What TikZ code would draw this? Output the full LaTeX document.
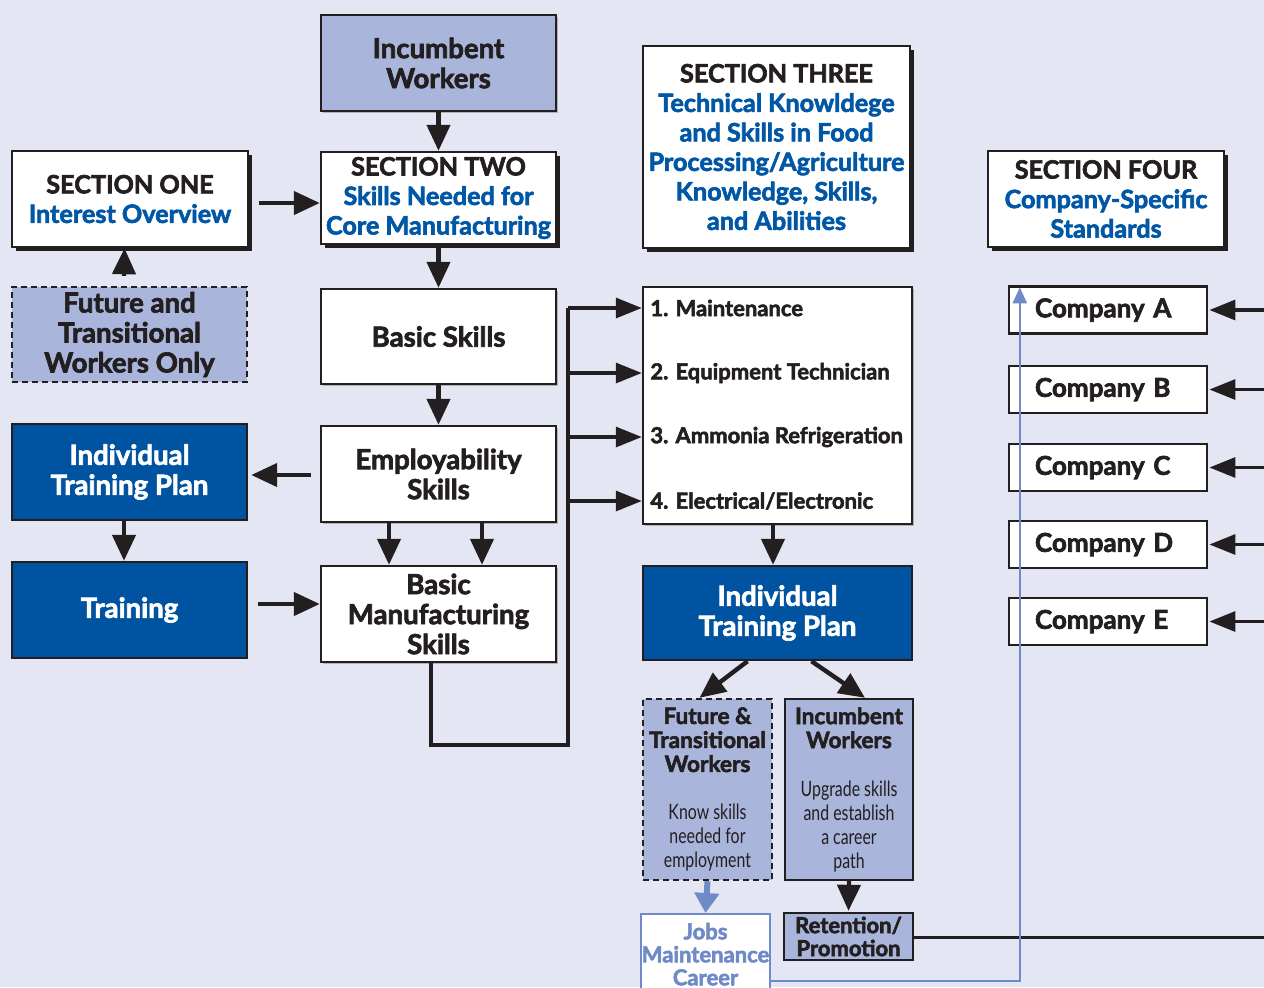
\documentclass[tikz,border=0pt]{standalone}
\usepackage{fontspec}
\setmainfont{Lato}[BoldFeatures={FakeBold=2.5}]
\newfontfamily\condfont{Lato}[FakeStretch=0.75]
\usetikzlibrary{arrows.meta,shadows,calc}

\definecolor{bgcol}{HTML}{E4E7F3}
\definecolor{ink}{HTML}{231F20}
\definecolor{palefill}{HTML}{A9B5DB}
\definecolor{navy}{HTML}{0053A0}
\definecolor{secblue}{HTML}{0057A6}
\definecolor{lineblue}{HTML}{6E8AC8}

% one line of condensed, regular-weight text
\newcommand{\condline}[1]{{\mdseries\condfont\fontsize{10.6}{12}\selectfont #1}}
\newcommand{\bluetext}[1]{\textcolor{secblue}{#1}}

\begin{document}
\begin{tikzpicture}[x=0.5pt,y=-0.5pt,
  box/.style={draw=ink, line width=1.2pt, fill=white, align=center, inner sep=0pt,
    text=ink, font=\bfseries\fontsize{13.8}{15}\selectfont},
  secbox/.style={box, font=\bfseries\fontsize{12.6}{14.75}\selectfont,
    drop shadow={shadow xshift=1.8pt,shadow yshift=-1.8pt,fill=ink,opacity=1}},
  softshadow/.style={drop shadow={shadow xshift=0.8pt,shadow yshift=-0.8pt,fill=gray!60,opacity=1}},
  palebox/.style={box, fill=palefill},
  darkbox/.style={box, fill=navy, text=white},
  dashbox/.style={palebox, dash pattern=on 3pt off 2pt},
  smallbox/.style={font=\bfseries\fontsize{11.3}{12}\selectfont},
  itemtext/.style={anchor=west, inner sep=0pt, text=ink, font=\bfseries\fontsize{11}{12}\selectfont},
  compbox/.style={box, minimum height=23.5pt, inner xsep=13pt, text width=73pt, align=left,
    font=\bfseries\fontsize{13}{14}\selectfont},
  arr/.style={draw=ink, line width=2.2pt, -{Triangle[length=13pt,width=11.5pt]}},
  busarr/.style={draw=ink, line width=1.6pt, -{Triangle[length=13pt,width=10pt]}},
  bus/.style={draw=ink, line width=1.6pt},
  bluearr/.style={draw=lineblue, line width=3pt, -{Triangle[length=10pt,width=12pt]}},
  bluethin/.style={draw=lineblue, line width=1.1pt, -{Triangle[length=8pt,width=7pt]}}
]
\useasboundingbox (0,0) rectangle (1264,987);
\fill[bgcol] (0,0) rectangle (1264,987);
\clip (0,0) rectangle (1264,987);

% ---- left and centre columns ----
\node[palebox,softshadow,minimum width=117.5pt,minimum height=48pt] (incT) at (438.5,63) {Incumbent\\Workers};
\node[secbox,minimum width=118pt,minimum height=48pt] (sec1) at (130,199)
  {SECTION ONE\\\bluetext{Interest Overview}};
\node[secbox,minimum width=117.5pt,minimum height=46pt] (sec2) at (438.5,198)
  {SECTION TWO\\\bluetext{Skills Needed for}\\\bluetext{Core Manufacturing}};
\node[dashbox,minimum width=117.5pt,minimum height=47.5pt] (futL) at (129.5,334.5)
  {Future and\\Transitional\\Workers Only};
\node[box,softshadow,minimum width=117.5pt,minimum height=47.5pt] (basic) at (438.5,336.5) {Basic Skills};
\node[box,softshadow,minimum width=117.5pt,minimum height=48pt] (emp) at (438.5,474) {Employability\\Skills};
\node[box,softshadow,minimum width=117.5pt,minimum height=48pt] (bms) at (438.5,614)
  {Basic\\Manufacturing\\Skills};
\node[darkbox,minimum width=117.5pt,minimum height=48pt] (itpL) at (129.5,472) {Individual\\Training Plan};
\node[darkbox,minimum width=117.5pt,minimum height=48pt] (train) at (129.5,610) {Training};

% ---- section three column ----
\node[secbox,minimum width=133.5pt,minimum height=101pt] (sec3) at (776.5,147)
  {SECTION THREE\\\bluetext{Technical Knowldege}\\\bluetext{and Skills in Food}\\
   \bluetext{Processing/Agriculture}\\\bluetext{Knowledge, Skills,}\\\bluetext{and Abilities}};
\node[box,softshadow,minimum width=134.5pt,minimum height=118.5pt] (list) at (777.5,405.5) {};
\node[itemtext] (i1) at (650,308) {1. Maintenance};
\node[itemtext] (i2) at (650,373) {2. Equipment Technician};
\node[itemtext] (i3) at (650,437) {3. Ammonia Refrigeration};
\node[itemtext] (i4) at (650,501) {4. Electrical/Electronic};
\node[darkbox,minimum width=134.5pt,minimum height=47pt] (itpM) at (777.5,613) {Individual\\Training Plan};
\node[dashbox,smallbox,minimum width=64.5pt,minimum height=90.5pt] (futS) at (707.5,789.5)
  {Future \&\\Transitional\\Workers\\[12pt]\condline{Know skills}\\\condline{needed for}\\\condline{employment}};
\node[palebox,smallbox,minimum width=64pt,minimum height=90.5pt] (incS) at (849,789.5)
  {Incumbent\\Workers\\[12pt]\condline{Upgrade skills}\\\condline{and establish}\\\condline{a career}\\\condline{path}};
\node[box,draw=lineblue,text=lineblue,anchor=north,minimum width=64.5pt,minimum height=40pt,
  font=\bfseries\fontsize{11}{11.5}\selectfont] (jobs) at (705.5,913) {Jobs\\Maintenance\\Career};
\node[palebox,minimum width=64.5pt,minimum height=23.5pt,
  font=\bfseries\fontsize{11}{11.5}\selectfont] (ret) at (848.5,936.5) {Retention/\\Promotion};

% ---- section four column ----
\node[secbox,minimum width=118pt,minimum height=48pt] (sec4) at (1106,199)
  {SECTION FOUR\\\bluetext{Company-Specific}\\\bluetext{Standards}};
\node[compbox] (cA) at (1108,310) {Company A};
\node[compbox] (cB) at (1108,389.5) {Company B};
\node[compbox] (cC) at (1108,467.5) {Company C};
\node[compbox] (cD) at (1108,544.5) {Company D};
\node[compbox] (cE) at (1108,621.5) {Company E};

% free ends at the right margin and the bend of the bus line
\coordinate (edge) at (1264,0);
\coordinate (busbot) at (568,745);
\coordinate (trainout) at ([yshift=3pt]train.east);
\coordinate (empout) at ([yshift=-0.5pt]emp.west);

% ---- connectors ----
\draw[arr] (incT.south) -- (sec2.north);
\draw[arr] ([xshift=5pt,yshift=-2pt]sec1.east) -- ([yshift=-2.5pt]sec2.west);
\draw[arr] ([xshift=-2.75pt,yshift=5pt]futL.north) -- ([xshift=-2.75pt]sec1.south);
\draw[arr] ([yshift=-1.5pt]sec2.south) -- (basic.north);
\draw[arr] (basic.south) -- (emp.north);
\draw[arr] ([xshift=-4.5pt]empout) -- ([xshift=1.5pt]empout -| itpL.east);
\draw[arr] ([xshift=-2.75pt]itpL.south) -- ([xshift=-2.75pt]train.north);
\draw[arr] ([xshift=5pt]trainout) -- (trainout -| bms.west);
\draw[arr] ([xshift=-24.75pt]emp.south) -- ([xshift=-24.75pt]bms.north);
\draw[arr] ([xshift=21.75pt]emp.south) -- ([xshift=21.75pt]bms.north);

\draw[bus] ([xshift=-3.75pt]bms.south) |- (busbot) -- (busbot |- i1);
\foreach \k in {1,2,3,4} {
  \draw[busarr] (busbot |- i\k) -- (list.west |- i\k);
}
\draw[arr] ([xshift=-2.25pt]list.south) -- ([xshift=-2.25pt]itpM.north);
\draw[arr] ([xshift=-15pt]itpM.south) -- ([xshift=-4pt]futS.north);
\draw[arr] ([xshift=17pt]itpM.south) -- ([xshift=8pt]incS.north);
\draw[bluearr] (futS.south) -- (jobs.north);
\draw[arr] (incS.south) -- ([yshift=0.5pt]ret.north);
\draw[bus] ([yshift=-0.5pt]ret.east) -- ([yshift=-0.5pt]ret.east -| edge);
\foreach \c in {A,B,C,D,E} {
  \draw[busarr] (edge |- c\c.east) -- ([xshift=0.6pt]c\c.east);
}
\draw[bluethin] ([yshift=-13.5pt]jobs.east) -| ([xshift=6pt,yshift=-1pt]cA.north west);
\end{tikzpicture}
\end{document}
